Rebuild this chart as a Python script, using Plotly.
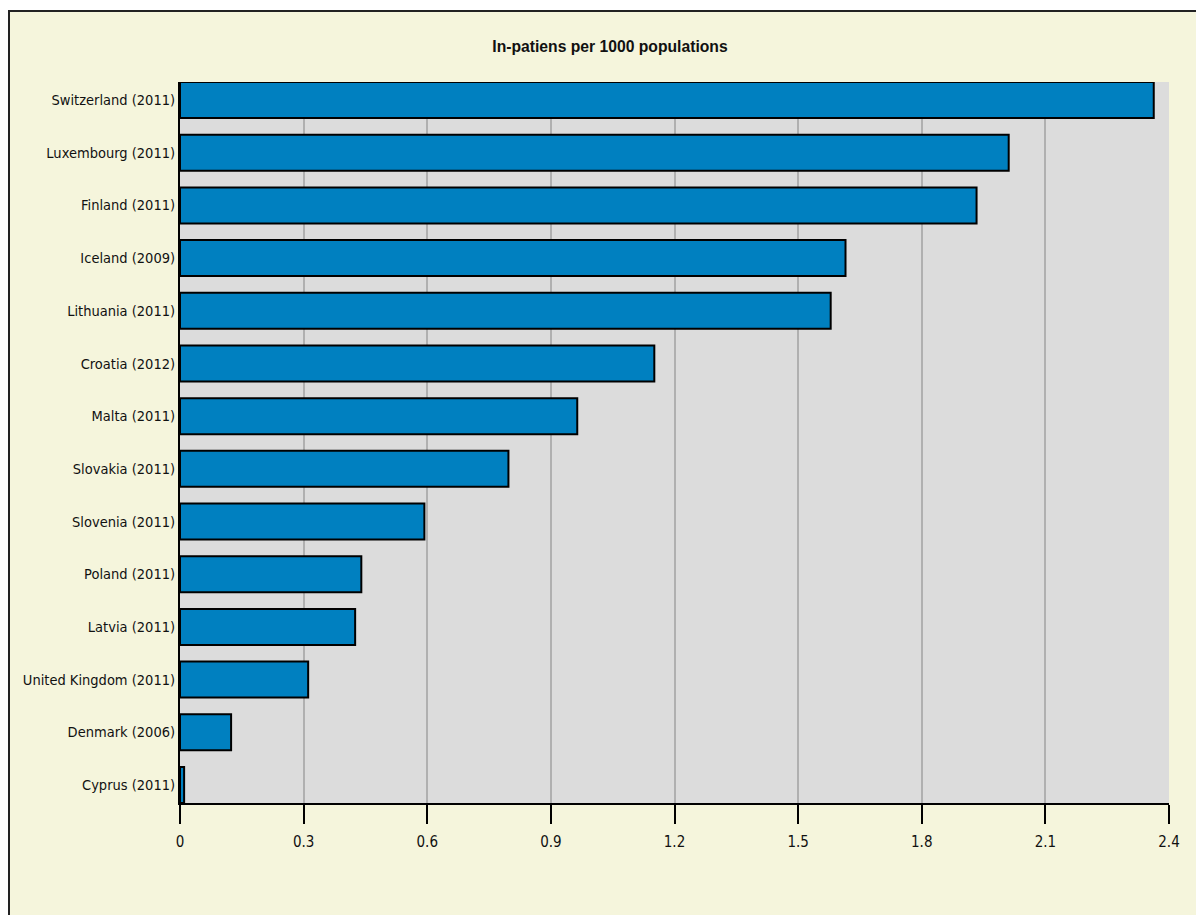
import plotly.graph_objects as go

countries = ["Switzerland (2011)", "Luxembourg (2011)", "Finland (2011)", "Iceland (2009)",
             "Lithuania (2011)", "Croatia (2012)", "Malta (2011)", "Slovakia (2011)",
             "Slovenia (2011)", "Poland (2011)", "Latvia (2011)", "United Kingdom (2011)",
             "Denmark (2006)", "Cyprus (2011)"]
values = [2.363, 2.011, 1.933, 1.615, 1.579, 1.151, 0.964, 0.797, 0.593, 0.440, 0.425, 0.311, 0.124, 0.010]
x_ticks = [0, 0.3, 0.6, 0.9, 1.2, 1.5, 1.8, 2.1, 2.4]
x_tick_labels = ["0", "0.3", "0.6", "0.9", "1.2", "1.5", "1.8", "2.1", "2.4"]
title_text = "In-patiens per 1000 populations"

FONT = "DejaVu Sans Condensed, sans-serif"
TFONT = "Liberation Sans, Arial, sans-serif"

fig = go.Figure(go.Bar(
    x=values, y=countries, orientation="h",
    marker=dict(color="#0080C0", line=dict(color="#000000", width=2)),
    width=0.683,
))

W, H = 1204, 915
ml, mr, mt, mb = 172, 43, 74, 120
pw, ph = W - ml - mr, H - mt - mb

def px_x(p):
    return (p - ml) / pw

def px_y(p):
    return 1 + (mt - p) / ph

shapes = [
    dict(type="rect", xref="paper", yref="paper", x0=px_x(-20), x1=px_x(W + 20),
         y0=px_y(3), y1=px_y(-20), fillcolor="white", line=dict(width=0), layer="below"),
    dict(type="line", xref="paper", yref="paper", x0=px_x(0), x1=px_x(W + 20),
         y0=px_y(3), y1=px_y(3), line=dict(color="#222222", width=2)),
    dict(type="line", xref="paper", yref="paper", x0=px_x(1), x1=px_x(1),
         y0=px_y(3), y1=px_y(H + 20), line=dict(color="#222222", width=2)),
]

fig.update_layout(
    width=W, height=H,
    margin=dict(l=ml, r=mr, t=mt, b=mb, autoexpand=False),
    paper_bgcolor="#F5F5DC",
    plot_bgcolor="#DCDCDC",
    showlegend=False,
    shapes=shapes,
    title=dict(text="<b>" + title_text + "</b>", x=602 / W, xref="container", xanchor="center",
               y=1 - 39 / H, yref="container", yanchor="middle",
               font=dict(family=TFONT, size=15.7, color="#111111")),
    font=dict(family=FONT, size=14, color="#111111"),
    xaxis=dict(range=[0, 2.4], tickvals=x_ticks, ticktext=x_tick_labels,
               showgrid=True, gridcolor="#B0B0B0", gridwidth=1.5,
               zeroline=False, showline=True, linecolor="#000000", linewidth=2,
               ticks="outside", ticklen=19, tickwidth=1.5, tickcolor="#000000",
               ticklabelstandoff=5,
               tickfont=dict(family=FONT, size=15, color="#111111")),
    yaxis=dict(range=[13.3415, -0.3415], type="category", showgrid=False, zeroline=False,
               showline=True, linecolor="#000000", linewidth=2, ticks="",
               tickfont=dict(family=FONT, size=14.5, color="#111111")),
    bargap=0.317,
)

fig.write_html("out.html")
